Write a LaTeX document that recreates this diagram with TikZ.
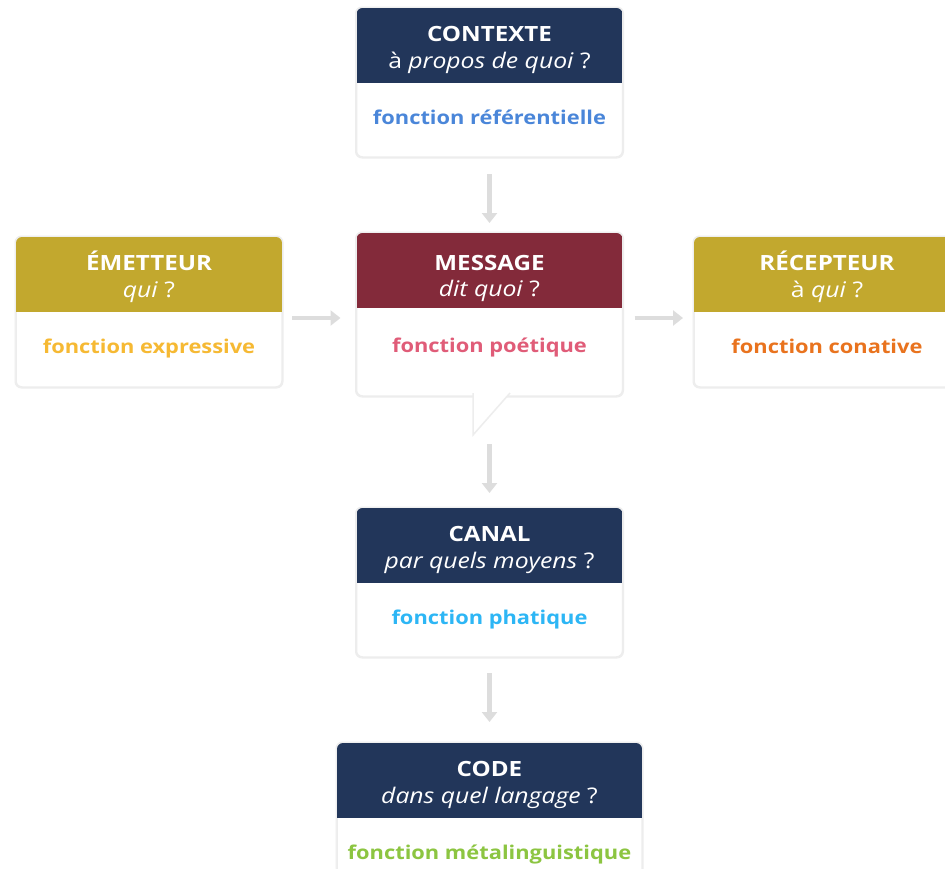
\documentclass[tikz,border=0pt]{standalone}
\usepackage{fontspec}
\setmainfont{Open Sans}[FakeStretch=1.15]
\usetikzlibrary{arrows.meta,calc}

\definecolor{navy}{HTML}{22365A}
\definecolor{bordeaux}{HTML}{832A3A}
\definecolor{olive}{HTML}{C2A82E}
\definecolor{refbleu}{HTML}{4A86D9}
\definecolor{poerose}{HTML}{E05C78}
\definecolor{expjaune}{HTML}{F6B933}
\definecolor{conorange}{HTML}{E9731E}
\definecolor{phacyan}{HTML}{2DB6F5}
\definecolor{metvert}{HTML}{8CC541}
\definecolor{flechegris}{HTML}{DDDDDD}
\definecolor{bordgris}{HTML}{EDEDED}

% carte: [decalage texte], nom, position haut, taille, couleur titre, titre, question, fonction, couleur fonction
\newcommand{\carte}[9][0pt]{%
  \node[card, #4, anchor=north] (#2) at #3 {};
  \begin{scope}
    \clip[rounded corners=6pt] (#2.south west) rectangle (#2.north east);
    \fill[#5] (#2.north west) rectangle ([yshift=-75pt]#2.north east);
  \end{scope}
  \draw[draw=bordgris, line width=1pt, rounded corners=6.5pt]
    ([shift={(-1pt,1pt)}]#2.north west) rectangle ([shift={(1pt,-1pt)}]#2.south east);
  \node[titre] (#2-t) at ([yshift={-26pt-#1}]#2.north) {#6};
  \node[question] (#2-q) at ([yshift={-54.5pt-#1}]#2.north) {#7};
  \node[fonction, text=#9] (#2-f) at ([yshift={-111pt-#1}]#2.north) {#8};
}

\begin{document}
\begin{tikzpicture}[x=1pt, y=-1pt,
    card/.style={draw=bordgris, line width=1.5pt, fill=white, rounded corners=6pt,
      minimum width=266pt, minimum height=149pt, inner sep=0pt, outer sep=0pt},
    titre/.style={text=white, font=\bfseries\fontsize{21}{24}\selectfont,
      text height=15pt, text depth=0pt},
    question/.style={text=white, font=\fontsize{21.5}{24}\selectfont,
      text height=11.5pt, text depth=0pt},
    fonction/.style={font=\bfseries\fontsize{19}{22}\selectfont,
      text height=10pt, text depth=0pt},
    fleche/.style={draw=flechegris, line width=4.5pt,
      -{Triangle[length=10pt, width=15pt]}},
  ]
    \useasboundingbox[fill=white] (0,0) rectangle (945,868);

    %% cartes
    \carte{ctx}{(489.5,8)}{}{navy}{CONTEXTE}{à \textit{propos de quoi} ?}{fonction référentielle}{refbleu}
    \carte{emt}{(149,237)}{minimum height=150pt}{olive}{ÉMETTEUR}{\textit{qui} ?}{fonction expressive}{expjaune}
    \carte{rec}{(827,237)}{minimum height=150pt}{olive}{RÉCEPTEUR}{à \textit{qui} ?}{fonction conative}{conorange}
    \carte[3.5pt]{msg}{(489.5,233)}{minimum height=163pt}{bordeaux}{MESSAGE}{\textit{dit quoi} ?}{fonction poétique}{poerose}
    \carte{can}{(489.5,508)}{}{navy}{CANAL}{\textit{par quels moyens} ?}{fonction phatique}{phacyan}
    \carte{cod}{(489.5,743)}{minimum width=305pt}{navy}{CODE}{\textit{dans quel langage} ?}{fonction métalinguistique}{metvert}

    %% bulle du message
    \coordinate (msg-pointe) at ([xshift=-16.5pt, yshift=-39pt]msg.south);
    \filldraw[fill=white, draw=bordgris, line width=1.5pt]
      ([yshift=3pt]msg-pointe |- msg.south) -- (msg-pointe)
      -- ([xshift=20.5pt, yshift=3pt]msg.south);

    %% fleches
    \draw[fleche, shorten <=17pt, shorten >=10pt] (ctx) -- (msg);
    \draw[fleche, shorten <=9pt, shorten >=15pt] (msg-pointe -| msg.south) -- (can);
    \draw[fleche, shorten <=16pt, shorten >=21pt] (can) -- (cod);
    \draw[fleche, shorten <=10pt, shorten >=16pt]
      ([yshift=-6pt]emt.east) coordinate (emt-d) -- (emt-d -| msg.west);
    \draw[fleche, shorten <=12pt, shorten >=11pt]
      ([yshift=-3.5pt]msg.east) coordinate (msg-d) -- (msg-d -| rec.west);
\end{tikzpicture}
\end{document}
